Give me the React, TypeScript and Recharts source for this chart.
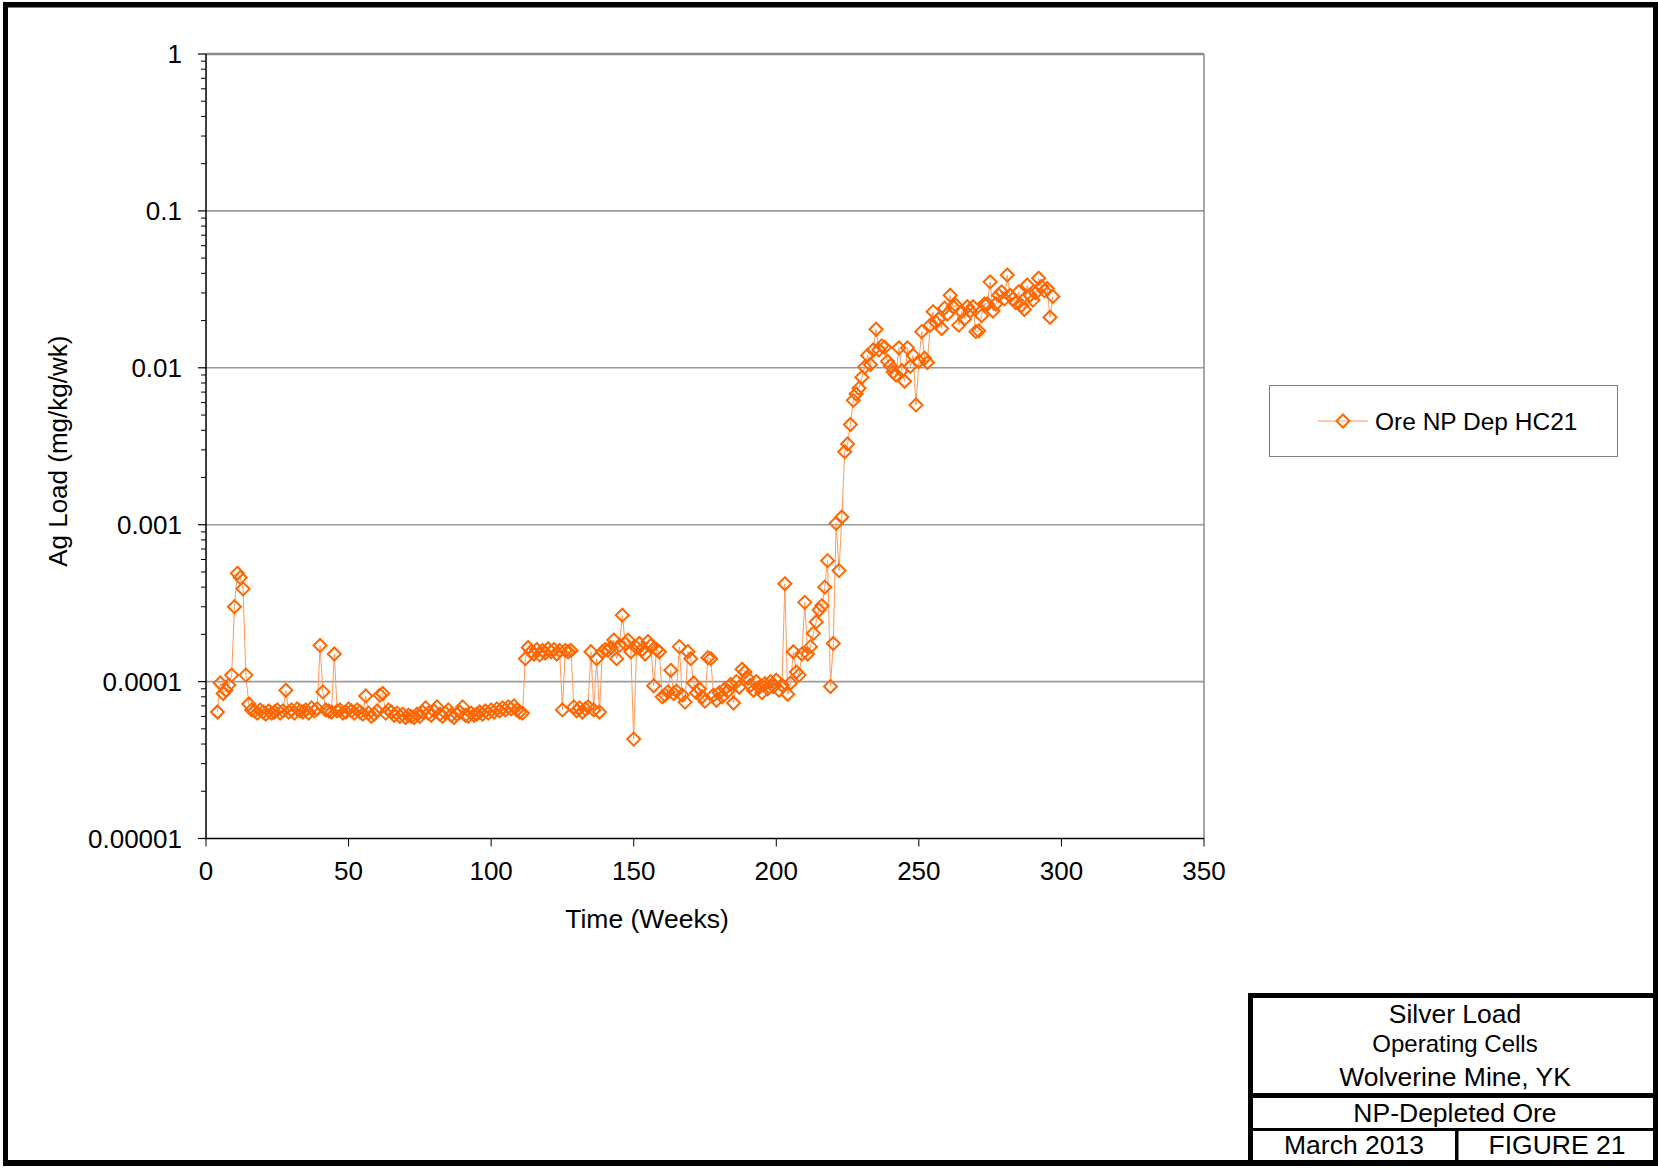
import React from 'react';
import { LineChart, Line, XAxis, YAxis, ReferenceLine, Label } from 'recharts';

const weeks = [
  4, 5, 6, 7, 8, 9, 10, 11, 12, 13,
  14, 15, 16, 17, 18, 19, 20, 21, 22, 23,
  24, 25, 26, 27, 28, 29, 30, 31, 32, 33,
  34, 35, 36, 37, 38, 39, 40, 41, 42, 43,
  44, 45, 46, 47, 48, 49, 50, 51, 52, 53,
  54, 55, 56, 57, 58, 59, 60, 61, 62, 63,
  64, 65, 66, 67, 68, 69, 70, 71, 72, 73,
  74, 75, 76, 77, 78, 79, 80, 81, 82, 83,
  84, 85, 86, 87, 88, 89, 90, 91, 92, 93,
  94, 95, 96, 97, 98, 99, 100, 101, 102, 103,
  104, 105, 106, 107, 108, 109, 110, 111, 112, 113,
  114, 115, 116, 117, 118, 119, 120, 121, 122, 123,
  124, 125, 126, 127, 128, 129, 130, 131, 132, 133,
  134, 135, 136, 137, 138, 139, 140, 141, 142, 143,
  144, 145, 146, 147, 148, 149, 150, 151, 152, 153,
  154, 155, 156, 157, 158, 159, 160, 161, 162, 163,
  164, 165, 166, 167, 168, 169, 170, 171, 172, 173,
  174, 175, 176, 177, 178, 179, 180, 181, 182, 183,
  184, 185, 186, 187, 188, 189, 190, 191, 192, 193,
  194, 195, 196, 197, 198, 199, 200, 201, 202, 203,
  204, 205, 206, 207, 208, 209, 210, 211, 212, 213,
  214, 215, 216, 217, 218, 219, 220, 221, 222, 223,
  224, 225, 226, 227, 228, 229, 230, 231, 232, 233,
  234, 235, 236, 237, 238, 239, 240, 241, 242, 243,
  244, 245, 246, 247, 248, 249, 250, 251, 252, 253,
  254, 255, 256, 257, 258, 259, 260, 261, 262, 263,
  264, 265, 266, 267, 268, 269, 270, 271, 272, 273,
  274, 275, 276, 277, 278, 279, 280, 281, 282, 283,
  284, 285, 286, 287, 288, 289, 290, 291, 292, 293,
  294, 295, 296, 297,
];

const agLoad = [
  6.4e-5, 9.8e-5, 8.4e-5, 8.8e-5, 9.5e-5, 1.1e-4, 3.0e-4, 4.9e-4, 4.6e-4, 3.9e-4,
  1.1e-4, 7.2e-5, 6.6e-5, 6.5e-5, 6.3e-5, 6.6e-5, 6.4e-5, 6.2e-5, 6.5e-5, 6.3e-5,
  6.4e-5, 6.6e-5, 6.3e-5, 6.5e-5, 8.8e-5, 6.4e-5, 6.6e-5, 6.3e-5, 6.7e-5, 6.5e-5,
  6.4e-5, 6.6e-5, 6.3e-5, 6.8e-5, 6.5e-5, 6.7e-5, 1.7e-4, 8.6e-5, 6.6e-5, 6.5e-5,
  6.4e-5, 1.5e-4, 6.5e-5, 6.6e-5, 6.3e-5, 6.4e-5, 6.7e-5, 6.5e-5, 6.3e-5, 6.6e-5,
  6.4e-5, 6.2e-5, 8.1e-5, 6.3e-5, 6.0e-5, 6.2e-5, 6.5e-5, 8.2e-5, 8.4e-5, 6.3e-5,
  6.6e-5, 6.4e-5, 6.1e-5, 6.3e-5, 6.0e-5, 6.2e-5, 5.9e-5, 6.1e-5, 6.0e-5, 5.9e-5,
  6.2e-5, 6.0e-5, 6.4e-5, 6.8e-5, 6.3e-5, 6.1e-5, 6.5e-5, 6.9e-5, 6.2e-5, 6.0e-5,
  6.3e-5, 6.6e-5, 6.1e-5, 5.9e-5, 6.2e-5, 6.4e-5, 6.9e-5, 6.1e-5, 6.0e-5, 6.3e-5,
  6.1e-5, 6.2e-5, 6.4e-5, 6.2e-5, 6.5e-5, 6.3e-5, 6.6e-5, 6.4e-5, 6.7e-5, 6.5e-5,
  6.8e-5, 6.6e-5, 6.9e-5, 6.7e-5, 7.0e-5, 6.6e-5, 6.4e-5, 6.3e-5, 1.4e-4, 1.65e-4,
  1.55e-4, 1.5e-4, 1.6e-4, 1.48e-4, 1.58e-4, 1.52e-4, 1.62e-4, 1.55e-4, 1.6e-4, 1.5e-4,
  1.58e-4, 6.6e-5, 1.58e-4, 1.55e-4, 1.58e-4, 6.9e-5, 6.5e-5, 6.8e-5, 6.4e-5, 6.7e-5,
  6.9e-5, 1.55e-4, 6.6e-5, 1.4e-4, 6.4e-5, 1.55e-4, 1.6e-4, 1.58e-4, 1.65e-4, 1.84e-4,
  1.4e-4, 1.7e-4, 2.65e-4, 1.75e-4, 1.84e-4, 1.55e-4, 4.3e-5, 1.65e-4, 1.75e-4, 1.6e-4,
  1.5e-4, 1.8e-4, 1.7e-4, 9.4e-5, 1.6e-4, 1.55e-4, 8.0e-5, 8.2e-5, 8.6e-5, 1.18e-4,
  8.4e-5, 8.7e-5, 1.67e-4, 8.2e-5, 7.4e-5, 1.55e-4, 1.4e-4, 9.8e-5, 8.5e-5, 9.0e-5,
  8.0e-5, 7.5e-5, 1.42e-4, 1.4e-4, 8.2e-5, 7.6e-5, 8.5e-5, 8.0e-5, 9.0e-5, 8.7e-5,
  9.6e-5, 7.3e-5, 1.0e-4, 9.2e-5, 1.2e-4, 1.15e-4, 1.05e-4, 9.5e-5, 8.8e-5, 1.0e-4,
  9.2e-5, 8.5e-5, 9.7e-5, 9.0e-5, 1.0e-4, 9.3e-5, 1.02e-4, 8.8e-5, 9.5e-5, 4.2e-4,
  8.3e-5, 9.8e-5, 1.55e-4, 1.15e-4, 1.1e-4, 1.5e-4, 3.2e-4, 1.5e-4, 1.67e-4, 2.03e-4,
  2.4e-4, 2.86e-4, 3.05e-4, 4.0e-4, 5.9e-4, 9.3e-5, 1.75e-4, 1.02e-3, 5.1e-4, 1.12e-3,
  2.92e-3, 3.27e-3, 4.35e-3, 6.2e-3, 6.8e-3, 7.4e-3, 8.7e-3, 1.01e-2, 1.2e-2, 1.05e-2,
  1.3e-2, 1.76e-2, 1.3e-2, 1.38e-2, 1.35e-2, 1.1e-2, 1.03e-2, 9.4e-3, 9.0e-3, 1.34e-2,
  9.6e-3, 8.2e-3, 1.34e-2, 1.02e-2, 1.2e-2, 5.8e-3, 1.1e-2, 1.7e-2, 1.15e-2, 1.08e-2,
  1.87e-2, 2.28e-2, 1.95e-2, 2.05e-2, 1.78e-2, 2.4e-2, 2.2e-2, 2.9e-2, 2.45e-2, 2.5e-2,
  1.87e-2, 2.28e-2, 2.05e-2, 2.45e-2, 2.3e-2, 2.45e-2, 1.7e-2, 1.72e-2, 2.15e-2, 2.55e-2,
  2.55e-2, 3.53e-2, 2.3e-2, 2.55e-2, 2.9e-2, 3.05e-2, 2.75e-2, 3.9e-2, 2.9e-2, 2.75e-2,
  2.6e-2, 3.05e-2, 2.5e-2, 2.35e-2, 3.37e-2, 2.9e-2, 2.7e-2, 3.0e-2, 3.72e-2, 3.3e-2,
  3.1e-2, 3.2e-2, 2.1e-2, 2.85e-2,
];

const xTicks = [0, 50, 100, 150, 200, 250, 300, 350];
const yMajorTicks = [0.00001, 0.0001, 0.001, 0.01, 0.1, 1];
const yMajorLabels = ['0.00001', '0.0001', '0.001', '0.01', '0.1', '1'];
const yMinorTicks = [
  2e-5, 3e-5, 4e-5, 5e-5, 6e-5, 7e-5, 8e-5, 9e-5,
  2e-4, 3e-4, 4e-4, 5e-4, 6e-4, 7e-4, 8e-4, 9e-4,
  2e-3, 3e-3, 4e-3, 5e-3, 6e-3, 7e-3, 8e-3, 9e-3,
  2e-2, 3e-2, 4e-2, 5e-2, 6e-2, 7e-2, 8e-2, 9e-2,
  0.2, 0.3, 0.4, 0.5, 0.6, 0.7, 0.8, 0.9,
];
const gridValues = [0.0001, 0.001, 0.01, 0.1];

const seriesName = 'Ore NP Dep HC21';
const titleLines = ['Silver Load', 'Operating Cells', 'Wolverine Mine, YK', 'NP-Depleted Ore', 'March 2013', 'FIGURE 21'];

const data = weeks.map((w, i) => ({ week: w, ag: agLoad[i] }));
const allYTicks = [...yMajorTicks, ...yMinorTicks].sort((a, b) => a - b);

const FONT = '"Liberation Sans", Arial, Helvetica, sans-serif';
const MARKER = '#FF6600';
const LINE = '#FF9A5C';

const YTick = (props: any) => {
  const { x, y, payload } = props;
  const v = payload.value;
  const idx = yMajorTicks.indexOf(v);
  if (idx >= 0) {
    return (
      <g>
        <line x1={x - 8} x2={x} y1={y} y2={y} stroke="#000" strokeWidth={1.2} />
        <text x={x - 24} y={y} dy="0.36em" textAnchor="end" fontSize={26} fontFamily={FONT} fill="#000">
          {yMajorLabels[idx]}
        </text>
      </g>
    );
  }
  return <line x1={x - 5} x2={x} y1={y} y2={y} stroke="#000" strokeWidth={1} />;
};

const Diamond = (props: any) => {
  const { cx, cy, index } = props;
  if (cx == null || cy == null) return <g key={`d-${index}`} />;
  const s = 6.5;
  return (
    <path
      key={`d-${index}`}
      d={`M${cx},${cy - s}L${cx + s},${cy}L${cx},${cy + s}L${cx - s},${cy}Z`}
      fill="none"
      stroke={MARKER}
      strokeWidth={2}
    />
  );
};

export default function App() {
  return (
    <div style={{ position: 'absolute', left: 0, top: 0, width: 1658, height: 1170, background: '#fff', fontFamily: FONT }}>
      <LineChart
        width={1658}
        height={1170}
        data={data}
        margin={{ top: 54, right: 454, bottom: 271.5, left: 6 }}
      >
        <XAxis
          dataKey="week"
          type="number"
          domain={[0, 350]}
          ticks={xTicks}
          interval={0}
          height={60}
          axisLine={{ stroke: '#000', strokeWidth: 1.5 }}
          tickLine={{ stroke: '#000' }}
          tickSize={8}
          tickMargin={15}
          tick={{ fontSize: 26, fill: '#000', fontFamily: FONT }}
        >
          <Label
            content={(p: any) => {
              const vb = p.viewBox || {};
              return (
                <text
                  x={vb.x + vb.width / 2 - 58}
                  y={vb.y + 89}
                  textAnchor="middle"
                  fontSize={26.5}
                  fontFamily={FONT}
                  fill="#000"
                >
                  Time (Weeks)
                </text>
              );
            }}
          />
        </XAxis>
        <YAxis
          type="number"
          scale="log"
          domain={[0.00001, 1]}
          allowDataOverflow
          ticks={allYTicks}
          interval={0}
          width={200}
          axisLine={{ stroke: '#000', strokeWidth: 1.5 }}
          tickLine={false}
          tickSize={0}
          tickMargin={0}
          tick={<YTick />}
        >
          <Label
            content={(p: any) => {
              const vb = p.viewBox || {};
              const cx = vb.x + 52;
              const cy = vb.y + vb.height / 2 + 5;
              return (
                <text
                  x={cx}
                  y={cy}
                  transform={`rotate(-90 ${cx} ${cy})`}
                  textAnchor="middle"
                  dy="0.36em"
                  fontSize={26}
                  fontFamily={FONT}
                  fill="#000"
                >
                  Ag Load (mg/kg/wk)
                </text>
              );
            }}
          />
        </YAxis>
        {gridValues.map((g) => (
          <ReferenceLine key={`g-${g}`} y={g} stroke="#9a9a9a" strokeWidth={1.6} />
        ))}
        <ReferenceLine y={1} stroke="#8a8a8a" strokeWidth={2.5} />
        <ReferenceLine x={350} stroke="#8a8a8a" strokeWidth={1.5} />
        <Line
          type="linear"
          dataKey="ag"
          name={seriesName}
          stroke={LINE}
          strokeWidth={1}
          dot={Diamond}
          activeDot={false}
          isAnimationActive={false}
        />
      </LineChart>

      <svg
        width={1658}
        height={1170}
        style={{ position: 'absolute', left: 0, top: 0, pointerEvents: 'none' }}
      >
        {/* outer frame */}
        <rect x={3} y={2} width={5} height={1164} fill="#000" />
        <rect x={3} y={2} width={1655} height={5.5} fill="#000" />
        <rect x={1653} y={2} width={5} height={1164} fill="#000" />
        <rect x={3} y={1160} width={1655} height={6} fill="#000" />

        {/* legend */}
        <rect x={1269.5} y={385.5} width={348} height={71} fill="#fff" stroke="#808080" strokeWidth={1} />
        <line x1={1318} x2={1368} y1={421} y2={421} stroke={LINE} strokeWidth={1.2} />
        <path d="M1343,414.5L1349.5,421L1343,427.5L1336.5,421Z" fill="none" stroke={MARKER} strokeWidth={2} />
        <text x={1375} y={430} fontSize={24.5} fontFamily={FONT} fill="#000">
          {seriesName}
        </text>

        {/* title block */}
        <rect x={1248} y={993} width={5} height={170} fill="#000" />
        <rect x={1248} y={993} width={410} height={5} fill="#000" />
        <rect x={1253} y={1093} width={405} height={5} fill="#000" />
        <rect x={1253} y={1128} width={405} height={3} fill="#000" />
        <rect x={1455} y={1131} width={3.5} height={30} fill="#000" />
        <text x={1455} y={1022.5} textAnchor="middle" fontSize={26.5} fontFamily={FONT} fill="#000">{titleLines[0]}</text>
        <text x={1455} y={1052} textAnchor="middle" fontSize={24} fontFamily={FONT} fill="#000">{titleLines[1]}</text>
        <text x={1455} y={1086} textAnchor="middle" fontSize={26.5} fontFamily={FONT} fill="#000">{titleLines[2]}</text>
        <text x={1455} y={1122} textAnchor="middle" fontSize={26.5} fontFamily={FONT} fill="#000">{titleLines[3]}</text>
        <text x={1354} y={1154} textAnchor="middle" fontSize={26.5} fontFamily={FONT} fill="#000">{titleLines[4]}</text>
        <text x={1557} y={1154} textAnchor="middle" fontSize={26.5} fontFamily={FONT} fill="#000">{titleLines[5]}</text>
      </svg>
    </div>
  );
}
